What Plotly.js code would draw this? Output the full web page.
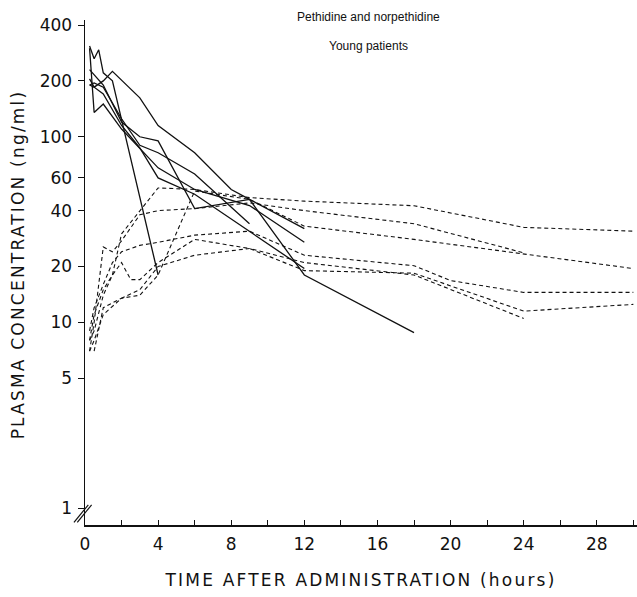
<!DOCTYPE html>
<html><head><meta charset="utf-8">
<script src="https://cdn.plot.ly/plotly-3.0.1.min.js"></script>
<style>html,body{margin:0;padding:0;background:#fff}#chart{width:637px;height:597px}
.xtitle,.ytitle{letter-spacing:2.2px}
.g-ytitle{transform:translate(0px,-8px)}</style>
</head><body><div id="chart"></div>
<script>
// Pethidine (solid) – time (h) and concentration (ng/ml)
const petT1 = [0.25,0.5,0.75,1,1.5,4];
const petV1 = [308,263,294,221,200,18];
const petT2 = [0.25,0.5,1,1.5,3,4,6,8,9,12,18];
const petV2 = [190,185,200,225,162,115,82,52,46,18,8.8];
const petT3 = [0.25,0.5,1,2,3,4,6,9,12];
const petV3 = [230,215,190,120,100,95,41,46,32];
const petT4 = [0.25,0.5,1,2,4,6,9,12];
const petV4 = [300,135,150,110,68,52,42.6,27];
const petT5 = [0.25,0.5,1,2,3,4,6,9];
const petV5 = [190,195,185,125,90,82,63,34];
const petT6 = [0.25,0.5,1,2,3,4,6,9,12];
const petV6 = [205,185,170,115,87,60,49,31,19.5];
// Norpethidine (dashed)
const norT1 = [0.25,0.5,1,1.5,2,4,6,9,12,18,24,30];
const norV1 = [8,11,15,18,30,53,52,47,45,42.5,32.5,31];
const norT2 = [0.25,0.5,1,1.5,2,3,4,6,9,12,18,24];
const norV2 = [7,10,25.5,24,27.5,38,40,41,44,40,34,23.7];
const norT3 = [0.5,0.75,1,2,3,4,6,9,12,18,30];
const norV3 = [7,9,12,13.5,14,18,51,46,33,28,19.5];
const norT4 = [0.25,0.5,1,1.5,2,3,4,6,9,12,18,20,24,30];
const norV4 = [9,12,16,21,24,26,27,29.5,31,23,20.2,16.8,14.5,14.5];
const norT5 = [0.25,0.5,1,1.5,2,2.5,3,4,6,9,12,18,24,30];
const norV5 = [8,9,14,18,21,17,17,21,28,25,19,18.4,11.5,12.5];
const norT6 = [0.25,0.5,1,2,3,4,6,9,12,18,24];
const norV6 = [7,8,11,13.5,15,20,23,25,21,18,10.5];

const xTickVals = [0,2,4,6,8,10,12,14,16,18,20,22,24,26,28,30];
const xTickText = ['0','','4','','8','','12','','16','','20','','24','','28',''];
const yTickVals = [1,5,10,20,40,60,100,200,400];
const yTickText = ['1','5','10','20','40','60','100','200','400'];

const solid = [[petT1,petV1],[petT2,petV2],[petT3,petV3],[petT4,petV4],[petT5,petV5],[petT6,petV6]];
const dashed = [[norT1,norV1],[norT2,norV2],[norT3,norV3],[norT4,norV4],[norT5,norV5],[norT6,norV6]];

const traces = [];
solid.forEach(([t,v]) => traces.push({x:t,y:v,type:'scatter',mode:'lines',
  line:{color:'#111',width:1.3},hoverinfo:'skip',showlegend:false}));
dashed.forEach(([t,v]) => traces.push({x:t,y:v,type:'scatter',mode:'lines',
  line:{color:'#111',width:1.1,dash:'4px,3px'},hoverinfo:'skip',showlegend:false}));

const fam = 'DejaVu Sans, sans-serif';
const layout = {
  width:637, height:597,
  margin:{l:85,r:0,t:20,b:72},
  paper_bgcolor:'#fff', plot_bgcolor:'#fff',
  font:{family:fam,color:'#111'},
  xaxis:{range:[0,30.2], tickvals:xTickVals, ticktext:xTickText,
    ticks:'inside', ticklen:5, tickcolor:'#111', tickwidth:1,
    showline:true, linecolor:'#111', linewidth:1.5, showgrid:false, zeroline:false,
    ticklabelstandoff:3,
    tickfont:{family:fam,size:17,color:'#111'},
    title:{text:'TIME AFTER ADMINISTRATION (hours)', font:{family:fam,size:17,color:'#111'}, standoff:21}},
  yaxis:{type:'log', range:[-0.0916,2.629], tickvals:yTickVals, ticktext:yTickText,
    ticks:'outside', ticklen:6, tickcolor:'#111', tickwidth:1,
    showline:true, linecolor:'#111', linewidth:1.5, showgrid:false, zeroline:false,
    ticklabelstandoff:2,
    tickfont:{family:fam,size:17,color:'#111'},
    title:{text:'PLASMA CONCENTRATION (ng/ml)', font:{family:fam,size:17,color:'#111'}, standoff:10}},
  annotations:[
    {text:'Pethidine and norpethidine', xref:'paper', yref:'paper', x:0.514, y:1.006, yanchor:'middle', showarrow:false, font:{family:'Liberation Sans, Arial, sans-serif',size:12,color:'#111'}},
    {text:'Young patients', xref:'paper', yref:'paper', x:0.514, y:0.948, yanchor:'middle', showarrow:false, font:{family:'Liberation Sans, Arial, sans-serif',size:12,color:'#111'}}
  ],
  shapes:[
    {type:'line', xref:'paper', yref:'paper', x0:-0.02, y0:0.005, x1:0.006, y1:0.04, line:{color:'#111',width:1.2}},
    {type:'line', xref:'paper', yref:'paper', x0:-0.014, y0:0.005, x1:0.012, y1:0.04, line:{color:'#111',width:1.2}}
  ]
};
Plotly.newPlot('chart', traces, layout, {staticPlot:true, displayModeBar:false});
</script></body></html>
